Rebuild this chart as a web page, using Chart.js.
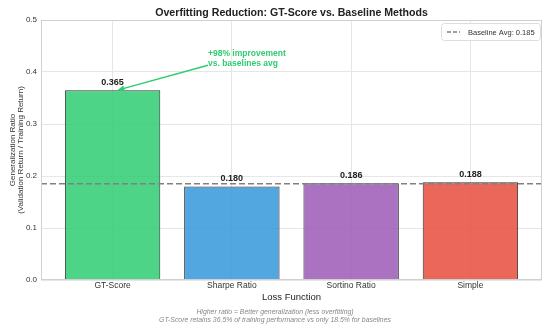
<!DOCTYPE html>
<html>
<head>
<meta charset="utf-8">
<script src="https://cdn.jsdelivr.net/npm/chart.js@4/dist/chart.umd.min.js"></script>
<style>
  html, body { margin: 0; padding: 0; background: #fff; }
  #wrap { width: 550px; height: 329px; }
</style>
</head>
<body>
<div id="wrap"><canvas id="chart" width="550" height="329"></canvas></div>
<script>
// Generalization ratio per loss function
const categories = ['GT-Score', 'Sharpe Ratio', 'Sortino Ratio', 'Simple'];
const ratios = [0.365, 0.180, 0.186, 0.188];
const barColors = ['#2ecc71', '#3498db', '#9b59b6', '#e74c3c'];
const baselineAvg = 0.185;
const yTicks = [0, 0.1, 0.2, 0.3, 0.4, 0.5];

const FONT = "'Liberation Sans', Arial, sans-serif";

// Title, footnotes, frame, legend, value labels and the arrow note
const decorations = {
  id: 'decorations',
  afterDatasetsDraw(chart) {
    const { ctx, chartArea: a, scales: { x, y } } = chart;
    ctx.save();

    // frame
    ctx.strokeStyle = '#d0d0d0';
    ctx.lineWidth = 1;
    ctx.strokeRect(a.left + 0.5, a.top + 0.5, a.right - a.left - 1, a.bottom - a.top - 1);

    // value labels on bars
    const meta = chart.getDatasetMeta(1);
    ctx.fillStyle = '#222';
    ctx.font = 'bold 9px ' + FONT;
    ctx.textAlign = 'center';
    ctx.textBaseline = 'bottom';
    meta.data.forEach((bar, i) => {
      ctx.fillText(ratios[i].toFixed(3), bar.x, bar.y - 3);
    });

    // arrow annotation
    const tipX = x.getPixelForValue(0.04), tipY = y.getPixelForValue(ratios[0]);
    const tailX = x.getPixelForValue(0.8), tailY = y.getPixelForValue(0.413);
    ctx.strokeStyle = '#2ecc71';
    ctx.fillStyle = '#2ecc71';
    ctx.lineWidth = 1.5;
    const ang = Math.atan2(tipY - tailY, tipX - tailX);
    ctx.beginPath();
    ctx.moveTo(tailX, tailY);
    ctx.lineTo(tipX - 5 * Math.cos(ang), tipY - 5 * Math.sin(ang));
    ctx.stroke();
    ctx.beginPath();
    ctx.moveTo(tipX, tipY);
    ctx.lineTo(tipX - 7 * Math.cos(ang) + 3 * Math.sin(ang), tipY - 7 * Math.sin(ang) - 3 * Math.cos(ang));
    ctx.lineTo(tipX - 7 * Math.cos(ang) - 3 * Math.sin(ang), tipY - 7 * Math.sin(ang) + 3 * Math.cos(ang));
    ctx.closePath();
    ctx.fill();
    ctx.font = 'bold 8.5px ' + FONT;
    ctx.textAlign = 'left';
    ctx.textBaseline = 'middle';
    ctx.fillText('+98% improvement', tailX, tailY - 12);
    ctx.fillText('vs. baselines avg', tailX, tailY - 2);

    // legend
    const lx = 441, ly = 23, lw = 99, lh = 17;
    ctx.fillStyle = 'rgba(255,255,255,0.85)';
    ctx.strokeStyle = '#dddddd';
    ctx.lineWidth = 1;
    ctx.beginPath();
    ctx.roundRect(lx + 0.5, ly + 0.5, lw, lh, 3);
    ctx.fill();
    ctx.stroke();
    ctx.strokeStyle = '#808080';
    ctx.lineWidth = 1.5;
    ctx.setLineDash([4, 2]);
    ctx.beginPath();
    ctx.moveTo(lx + 6, ly + 9);
    ctx.lineTo(lx + 19, ly + 9);
    ctx.stroke();
    ctx.setLineDash([]);
    ctx.fillStyle = '#333';
    ctx.font = '7.5px ' + FONT;
    ctx.fillText('Baseline Avg: ' + baselineAvg.toFixed(3), lx + 27, ly + 9.5);

    // title
    ctx.fillStyle = '#222';
    ctx.font = 'bold 10.6px ' + FONT;
    ctx.textAlign = 'center';
    ctx.fillText('Overfitting Reduction: GT-Score vs. Baseline Methods', (a.left + a.right) / 2, 13);

    // footnotes
    ctx.fillStyle = '#888';
    ctx.font = 'italic 6.9px ' + FONT;
    ctx.fillText('Higher ratio = Better generalization (less overfitting)', 275, 312);
    ctx.fillText('GT-Score retains 36.5% of training performance vs only 18.5% for baselines', 275, 320);

    ctx.restore();
  }
};

new Chart(document.getElementById('chart'), {
  data: {
    datasets: [
      {
        type: 'line',
        data: [{ x: -0.6, y: baselineAvg }, { x: 3.6, y: baselineAvg }],
        borderColor: '#808080',
        borderWidth: 1.5,
        borderDash: [6, 3],
        pointRadius: 0,
        order: 0
      },
      {
        type: 'bar',
        data: ratios.map((v, i) => ({ x: i, y: v })),
        backgroundColor: barColors.map(c => c + 'd9'),
        borderColor: '#333333',
        borderWidth: 1,
        barPercentage: 0.8,
        categoryPercentage: 1,
        order: 1
      }
    ]
  },
  plugins: [decorations],
  options: {
    responsive: false,
    animation: false,
    layout: { padding: { top: 20, right: 8, left: 0, bottom: 0 } },
    plugins: { legend: { display: false }, tooltip: { enabled: false } },
    scales: {
      x: {
        type: 'linear',
        min: -0.6,
        max: 3.6,
        offset: false,
        afterBuildTicks: axis => { axis.ticks = categories.map((c, i) => ({ value: i })); },
        afterFit: axis => { axis.height = 49; },
        grid: { color: '#e6e6e6', drawTicks: false, offset: false },
        border: { display: false },
        ticks: {
          callback: v => categories[v],
          color: '#333',
          font: { family: FONT, size: 8.5 },
          padding: 1,
          maxRotation: 0
        },
        title: {
          display: true,
          text: 'Loss Function',
          color: '#222',
          font: { family: FONT, size: 9.5 },
          padding: { top: 0, bottom: 26 }
        }
      },
      y: {
        min: 0,
        max: 0.5,
        afterBuildTicks: axis => { axis.ticks = yTicks.map(v => ({ value: v })); },
        afterFit: axis => { axis.width = 41; },
        grid: { color: '#e6e6e6', drawTicks: false },
        border: { display: false },
        ticks: {
          callback: v => v.toFixed(1),
          color: '#333',
          font: { family: FONT, size: 8 },
          padding: 4
        },
        title: {
          display: true,
          text: ['Generalization Ratio', '(Validation Return / Training Return)'],
          color: '#333',
          font: { family: FONT, size: 8, lineHeight: 1 },
          padding: { top: 8.7, bottom: 0 }
        }
      }
    }
  }
});
</script>
</body>
</html>
